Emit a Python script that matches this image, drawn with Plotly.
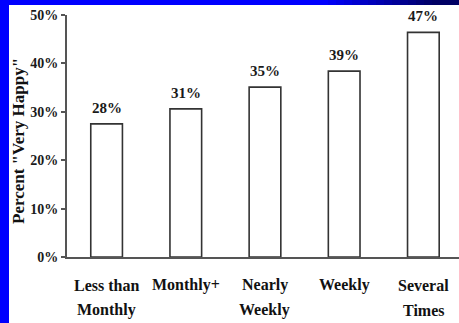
import plotly.graph_objects as go

categories = ["Less than Monthly", "Monthly+", "Nearly Weekly", "Weekly", "Several Times"]
label_line1 = ["Less than", "Monthly+", "Nearly", "Weekly", "Several"]
label_line2 = ["Monthly", "", "Weekly", "", "Times"]
values = [27.5, 30.6, 35.1, 38.4, 46.4]
value_labels = ["28%", "31%", "35%", "39%", "47%"]
y_ticks = [0, 10, 20, 30, 40, 50]
y_tick_labels = ["0%", "10%", "20%", "30%", "40%", "50%"]

SERIF = "Liberation Serif, Times New Roman, serif"

fig = go.Figure()
fig.add_trace(go.Bar(
    x=categories, y=values, width=0.40,
    marker=dict(color="white", line=dict(color="#333333", width=1.6)),
    hoverinfo="skip",
))

ann = []
for c, v, t in zip(categories, values, value_labels):
    ann.append(dict(x=c, y=v, xref="x", yref="y", text=t, showarrow=False,
                    yanchor="bottom", yshift=6,
                    font=dict(family=SERIF, size=15, color="#1a1a1a", weight="bold")))
for c, l1, l2 in zip(categories, label_line1, label_line2):
    ann.append(dict(x=c, y=0, xref="x", yref="paper", text=l1, showarrow=False,
                    yanchor="middle", yshift=-28,
                    font=dict(family=SERIF, size=16, color="#111111", weight="bold")))
    if l2:
        ann.append(dict(x=c, y=0, xref="x", yref="paper", text=l2, showarrow=False,
                        yanchor="middle", yshift=-53,
                        font=dict(family=SERIF, size=16, color="#111111", weight="bold")))
ann.append(dict(x=0, y=0.5, xref="paper", yref="paper", text='Percent "Very Happy"',
                showarrow=False, textangle=-90, xanchor="center", yanchor="middle",
                xshift=-49, yshift=-5,
                font=dict(family=SERIF, size=17, color="#111111", weight="bold")))

shapes = []
# left blue strip
shapes.append(dict(type="rect", xref="paper", yref="paper", xsizemode="pixel", xanchor=0,
                   x0=-70, x1=-58, y0=-1, y1=2, fillcolor="#0000FF", line=dict(width=0),
                   layer="above"))
# top strip with gradient to navy
def mix(a, b, t):
    return "#%02x%02x%02x" % tuple(int(a[i] + (b[i] - a[i]) * t) for i in range(3))
start, end = (0, 0, 255), (0, 0, 100)
px_edges = [0, 320] + [320 + 8 * i for i in range(1, 15)] + [470]
for i in range(len(px_edges) - 1):
    t = min(1.0, max(0.0, (px_edges[i] - 320) / 110))
    shapes.append(dict(type="rect", xref="paper", yref="paper", ysizemode="pixel", yanchor=1,
                       x0=(px_edges[i] - 67) / 392, x1=(px_edges[i + 1] - 67) / 392,
                       y0=10, y1=20, fillcolor=mix(start, end, t), line=dict(width=0),
                       layer="above"))

fig.update_layout(
    width=459, height=323,
    margin=dict(l=67, r=0, t=15, b=66),
    paper_bgcolor="white", plot_bgcolor="white",
    showlegend=False,
    annotations=ann, shapes=shapes,
    xaxis=dict(range=[-0.5, 4.45], showticklabels=False, ticks="", showgrid=False,
               showline=True, linecolor="#555555", linewidth=2, zeroline=False,
               fixedrange=True),
    yaxis=dict(range=[0, 50], tickmode="array", tickvals=y_ticks, ticktext=y_tick_labels,
               ticks="outside", ticklen=4, tickcolor="#555555", tickwidth=1.5,
               showgrid=False, showline=True, linecolor="#555555", linewidth=2,
               zeroline=False,
               tickfont=dict(family=SERIF, size=14, color="#1a1a1a", weight="bold"),
               fixedrange=True),
)

fig.write_html("out.html")
